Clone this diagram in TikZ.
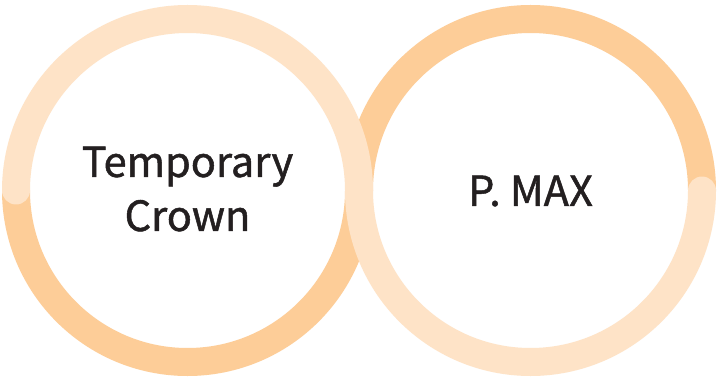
\documentclass[tikz,border=0pt]{standalone}
\usepackage{fontspec}
\newfontfamily\krfont[FakeBold=1.2]{Noto Sans CJK KR}
\definecolor{ringlight}{RGB}{254,227,199}
\definecolor{ringdark}{RGB}{253,205,152}
\definecolor{textdark}{RGB}{35,31,32}

\begin{document}
\begin{tikzpicture}[x=1pt,y=1pt,
  ringband/.style={line width=28pt},
  ringlabel/.style={text=textdark,align=center,inner sep=0pt,
    font=\krfont\fontsize{41.5}{54}\selectfont}]
\useasboundingbox[fill=white] (0.000000,0.000000) rectangle (719.000000,378.000000);
% Drawing rings: dark band first
\coordinate (start) at (16.000000,187.500000);
\draw[ringband,color=ringdark,line cap=butt] (start)
  arc[start angle=180,end angle=360,radius=171.500000]
  arc[start angle=180,end angle=0,radius=171.500000];
% Light band on top, round ends
\draw[ringband,color=ringlight,line cap=round] (start)
  arc[start angle=180,end angle=0,radius=171.500000]
  arc[start angle=180,end angle=360,radius=171.500000];
% Done with rings; drawing labels
\node[ringlabel] (crown) at (187.500000,189.000000) {Temporary\\Crown};
\node[ringlabel] (pmax) at (530.500000,187.000000) {P. MAX};
% Done with labels
\end{tikzpicture}
\end{document}
